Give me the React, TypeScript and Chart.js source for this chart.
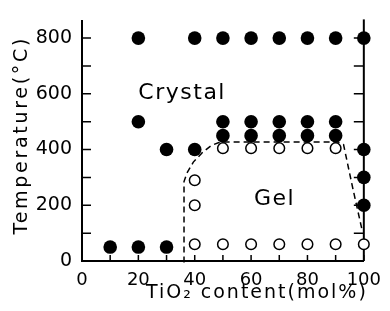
import React, { useEffect, useRef } from "react";
import { Chart, registerables } from "chart.js";

Chart.register(...registerables);

// Crystal (filled circles)
const crystalX = [10, 20, 30, 20, 30, 40, 50, 60, 70, 80, 90, 50, 60, 70, 80, 90, 20, 40, 50, 60, 70, 80, 90, 100, 100, 100, 100];
const crystalY = [50, 50, 50, 500, 400, 400, 450, 450, 450, 450, 450, 500, 500, 500, 500, 500, 800, 800, 800, 800, 800, 800, 800, 800, 400, 300, 200];

// Gel (open circles)
const gelX = [40, 50, 60, 70, 80, 90, 100, 40, 40, 50, 60, 70, 80, 90];
const gelY = [60, 60, 60, 60, 60, 60, 60, 200, 290, 405, 405, 405, 405, 405];

// Gel region boundary (dashed)
const boundaryX = [36.2, 36.2, 37.2, 39.5, 43, 46, 49, 91, 92.8, 96, 99.3];
const boundaryY = [-5, 285, 315, 355, 392, 415, 427, 427, 418, 265, 115];

const xTickLabels = [0, 20, 40, 60, 80, 100];
const yTickLabels = [0, 200, 400, 600, 800];

const xTitle = "TiO₂ content(mol%)";
const yTitle = "Temperature(°C)";

const regionLabels = ["Crystal", "Gel"];
const regionX = [20, 61];
const regionY = [580, 200];

const FONT = "'DejaVu Sans', sans-serif";

const framePlugin = {
  id: "frame",
  beforeDatasetsDraw(chart: any) {
    const { ctx, chartArea, scales } = chart;
    const x = scales.x;
    const y = scales.y;
    const xr = x.getPixelForValue(100);
    const xl = x.getPixelForValue(0);
    const yb = y.getPixelForValue(0);
    ctx.save();
    ctx.strokeStyle = "#000";
    ctx.lineWidth = 2;
    ctx.beginPath();
    ctx.moveTo(xr, chartArea.top - 2);
    ctx.lineTo(xr, chartArea.bottom);
    ctx.stroke();
    ctx.lineWidth = 1.5;
    ctx.beginPath();
    x.ticks.forEach((t: any) => {
      const px = x.getPixelForValue(t.value);
      ctx.moveTo(px, yb);
      ctx.lineTo(px, yb - 6);
    });
    y.ticks.forEach((t: any) => {
      if (t.value === 0) return;
      const py = y.getPixelForValue(t.value);
      ctx.moveTo(xl, py);
      ctx.lineTo(xl + 9, py);
      ctx.moveTo(xr, py);
      ctx.lineTo(xr - 10, py);
    });
    ctx.stroke();
    ctx.restore();
  },
  afterDatasetsDraw(chart: any) {
    const { ctx, scales, chartArea } = chart;
    ctx.save();
    ctx.fillStyle = "#000";
    ctx.font = `22px ${FONT}`;
    ctx.textAlign = "left";
    ctx.textBaseline = "alphabetic";
    (ctx as any).letterSpacing = "1.5px";
    regionLabels.forEach((t, i) => {
      ctx.fillText(t, scales.x.getPixelForValue(regionX[i]), scales.y.getPixelForValue(regionY[i]));
    });
    // axis titles
    ctx.font = `19px ${FONT}`;
    (ctx as any).letterSpacing = "2px";
    ctx.textAlign = "right";
    ctx.fillText(xTitle, chartArea.right + 4, chartArea.bottom + 37);
    ctx.save();
    ctx.translate(27, (chartArea.top + chartArea.bottom) / 2 - 6);
    ctx.rotate(-Math.PI / 2);
    ctx.textAlign = "center";
    (ctx as any).letterSpacing = "2.7px";
    ctx.fillText(yTitle, 0, 0);
    ctx.restore();
    ctx.restore();
  },
};

export default function App() {
  const ref = useRef<HTMLCanvasElement>(null);
  useEffect(() => {
    document.body.style.margin = "0";
    Chart.defaults.color = "#000";
    const chart = new Chart(ref.current as HTMLCanvasElement, {
      type: "scatter",
      data: {
        datasets: [
          {
            label: "Crystal",
            data: crystalX.map((v, i) => ({ x: v, y: crystalY[i] })),
            backgroundColor: "#000",
            borderColor: "#000",
            borderWidth: 0,
            pointRadius: 6.8,
            clip: false as any,
          },
          {
            label: "Gel",
            data: gelX.map((v, i) => ({ x: v, y: gelY[i] })),
            backgroundColor: "#fff",
            borderColor: "#000",
            borderWidth: 1.5,
            pointRadius: 5.3,
            clip: false as any,
          },
          {
            label: "Boundary",
            data: boundaryX.map((v, i) => ({ x: v, y: boundaryY[i] })),
            showLine: true,
            borderColor: "#000",
            borderWidth: 1.5,
            borderDash: [6, 4],
            pointRadius: 0,
            tension: 0,
            fill: false,
            clip: false as any,
          },
        ],
      },
      options: {
        animation: false,
        responsive: false,
        events: [],
        layout: { autoPadding: false, padding: { top: 12, right: 15, left: 0, bottom: 0 } } as any,
        plugins: { legend: { display: false }, tooltip: { enabled: false } },
        scales: {
          x: {
            type: "linear",
            min: 0,
            max: 100,
            grid: { display: false, drawTicks: false },
            border: { display: true, color: "#000", width: 2 },
            ticks: {
              stepSize: 10,
              autoSkip: false,
              maxRotation: 0,
              padding: 9,
              color: "#000",
              font: { family: FONT, size: 18 },
              callback: (v: any) => (xTickLabels.includes(Number(v)) ? String(v) : ""),
            },
            title: { display: false },
            afterFit: (s: any) => { s.height = 50; },
          },
          y: {
            type: "linear",
            min: 0,
            max: 860,
            grid: { display: false, drawTicks: false },
            border: { display: true, color: "#000", width: 2 },
            ticks: {
              stepSize: 100,
              includeBounds: false,
              autoSkip: false,
              padding: 10,
              color: "#000",
              font: { family: FONT, size: 19 },
              callback: (v: any) => (yTickLabels.includes(Number(v)) ? String(v) : ""),
            },
            title: { display: false },
            afterFit: (s: any) => { s.width = 82; },
          },
        },
      },
      plugins: [framePlugin],
    } as any);
    return () => chart.destroy();
  }, []);
  return (
    <div style={{ width: 390, height: 311 }}>
      <canvas ref={ref} width={390} height={311} style={{ display: "block" }} />
    </div>
  );
}
